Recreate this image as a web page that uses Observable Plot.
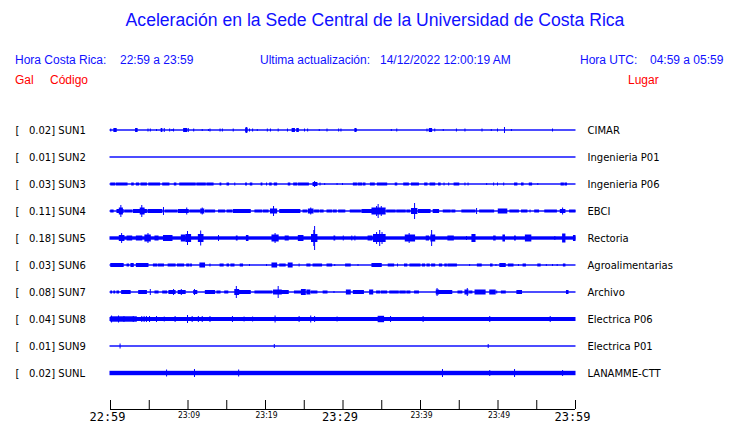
<!DOCTYPE html>
<html>
<head>
<meta charset="utf-8">
<script src="https://cdn.jsdelivr.net/npm/d3@7"></script>
<script src="https://cdn.jsdelivr.net/npm/@observablehq/plot@0.6"></script>
<style>
  html, body { margin: 0; padding: 0; background: #fff; }
  #page { position: relative; width: 740px; height: 423px; overflow: hidden; }
  .hd { position: absolute; font-family: "Liberation Sans", Arial, sans-serif; white-space: pre; line-height: 14px; }
  .blue { color: #1010ff; }
  .red { color: #ff0000; }
  #title { position: absolute; left: 0; width: 750px; top: 9px; text-align: center; font-family: "Liberation Sans", Arial, sans-serif; font-size: 17.6px; line-height: 22px; color: #1010ff; }
  #chart { position: absolute; left: 0; top: 110px; }
</style>
</head>
<body>
<div id="page">
  <div id="title">Aceleración en la Sede Central de la Universidad de Costa Rica</div>
  <span class="hd blue" style="left:15px;top:53px;font-size:12px">Hora Costa Rica:</span>
  <span class="hd blue" style="left:120px;top:53px;font-size:12px">22:59 a 23:59</span>
  <span class="hd blue" style="left:260px;top:53px;font-size:12px">Ultima actualización:</span>
  <span class="hd blue" style="left:380px;top:53px;font-size:12px">14/12/2022 12:00:19 AM</span>
  <span class="hd blue" style="left:580px;top:53px;font-size:12px">Hora UTC:</span>
  <span class="hd blue" style="left:650px;top:53px;font-size:12px">04:59 a 05:59</span>
  <span class="hd red" style="left:15px;top:73px;font-size:12px">Gal</span>
  <span class="hd red" style="left:50px;top:73px;font-size:12px">Código</span>
  <span class="hd red" style="left:628px;top:73px;font-size:12px">Lugar</span>
  <div id="chart"></div>
</div>
<script>
// ---- station metadata ----
const codes = ["SUN1","SUN2","SUN3","SUN4","SUN5","SUN6","SUN7","SUN8","SUN9","SUNL"];
const gal = ["0.02","0.01","0.03","0.11","0.18","0.03","0.08","0.04","0.01","0.02"];
const places = ["CIMAR","Ingenieria P01","Ingenieria P06","EBCI","Rectoria","Agroalimentarias","Archivo","Electrica P06","Electrica P01","LANAMME-CTT"];
// background (noise) half-amplitude of each trace
const baseAmp = [0.7,0.7,0.7,0.7,1.7,0.7,0.7,2.0,0.7,2.2];

// ---- time axis (minutes after 22:59) ----
const tickMinutes = [0,5,10,15,20,25,30,35,40,45,50,55,60];
const majorMinutes = [0,30,60];
const majorLabels = ["22:59","23:29","23:59"];
const minorMinutes = [10,20,40,50];
const minorLabels = ["23:09","23:19","23:39","23:49"];

// ---- bursts: [start minute, end minute, half-amplitude] ----
const sun1 = [[0.1,0.1,1.5],[0.5,0.8,2],[3.3,3.5,2],[4.9,4.9,1.5],[5.2,5.2,1.5],[6.0,6.0,1],[6.6,6.7,2],[7.0,7.0,2],[7.7,7.7,1.5],[8.0,8.0,1],[8.2,8.2,1.5],[9.5,9.9,2],[10.1,10.1,2],[10.8,10.8,1.5],[11.9,11.9,1],[12.7,12.7,1],[12.9,12.9,1.5],[14.2,14.2,1.5],[14.5,14.5,1.5],[15.9,15.9,1.5],[17.5,17.7,2.5],[17.6,17.6,3],[18.0,18.0,1.5],[18.4,18.4,1.5],[19.0,19.0,1],[20.3,20.3,1.5],[20.7,20.7,1.5],[21.7,21.7,1.5],[22.9,22.9,1.5],[23.5,23.8,2],[24.1,24.3,2],[25.1,25.1,1.5],[25.5,25.5,1.5],[27.0,27.0,1],[28.0,28.0,1.5],[29.5,29.5,1.5],[29.8,29.8,1.5],[31.6,31.7,2],[31.8,31.8,1.5],[36.3,36.3,1],[37.0,37.0,1.5],[40.9,40.9,1.5],[41.2,41.5,2],[41.9,41.9,1.5],[43.0,43.0,1],[44.7,44.7,1.5],[45.8,45.8,1.5],[48.0,48.0,1.5],[49.2,49.2,1],[50.0,50.0,1.5],[50.9,50.9,3],[51.8,51.8,1],[57.1,57.1,1.5]];
const sun2 = [];
const sun3 = [[0.1,0.6,1.5],[0.8,2.2,1.5],[2.8,3.0,1.5],[3.4,3.7,1.5],[4.0,4.7,1.5],[5.0,6.4,1.5],[6.8,7.6,1.5],[8.3,8.5,1.5],[9.0,11.0,1.5],[11.2,12.3,1.5],[12.5,13.3,1.5],[14.2,14.3,1.5],[15.1,15.3,1.5],[16.1,16.1,1.5],[17.5,17.6,1.5],[18.1,18.3,1.5],[19.5,19.6,1.5],[20.2,20.2,1.5],[20.6,20.8,1.5],[21.2,21.5,1.5],[23.0,23.2,1.5],[23.7,24.1,1.5],[24.3,25.6,1.5],[26.2,26.7,2],[26.4,26.4,3],[27.1,27.1,1.5],[27.7,27.7,1],[29.3,29.3,1],[30.0,30.0,1],[31.4,31.8,1.5],[32.0,32.5,1.5],[32.7,32.9,1.5],[33.6,34.1,1.5],[34.5,35.7,1.5],[36.8,37.0,1.5],[37.9,38.5,1.5],[38.9,39.8,1.5],[40.6,40.9,1.5],[41.3,41.9,1.5],[42.4,42.6,1.5],[43.1,43.1,1.5],[43.7,43.7,1.5],[44.4,45.0,1.5],[45.8,45.8,1.5],[46.2,46.2,1.5],[48.6,48.6,1],[49.5,49.5,1.5],[50.0,50.0,1.5],[50.8,50.8,1.5],[52.2,52.5,1.5],[53.1,53.3,1.5],[54.1,54.4,1.5],[55.2,55.2,1],[58.2,58.5,1.5],[58.7,58.9,1.5]];
const sun4 = [[0.1,0.4,1.5],[0.9,1.7,2],[1.4,1.4,6],[1.2,1.6,3.5],[1.9,2.8,1.5],[3.0,4.7,2],[3.9,4.4,3.5],[4.1,4.1,6],[4.9,6.7,2],[6.9,6.9,4],[7.1,8.6,1.5],[8.8,10.1,2],[9.9,9.9,3.5],[10.3,11.6,1.5],[11.7,12.1,2.5],[11.9,11.9,3.5],[12.3,13.5,1.5],[14.0,14.8,1.5],[15.1,15.7,1.5],[15.9,18.1,2],[18.7,19.6,1.5],[19.8,20.4,1.5],[20.7,21.5,2.5],[21.1,21.1,5],[21.9,24.5,2],[24.9,25.4,1.5],[25.6,26.2,2.5],[25.9,25.9,3.5],[26.4,26.9,1.5],[27.1,27.5,1.5],[28.0,28.6,1.5],[28.8,29.2,1.5],[29.5,30.3,1.5],[31.0,32.3,1.5],[32.5,33.8,2],[33.8,35.5,3.5],[34.4,34.4,5],[34.6,34.6,7],[35.0,35.0,5],[35.7,36.8,1.5],[37.0,38.1,1.5],[38.3,38.7,1.5],[38.9,39.6,3],[39.3,39.3,8],[39.8,41.3,2],[41.7,42.4,2],[43.0,43.9,1.5],[44.1,44.5,1.5],[45.4,47.1,1.5],[47.3,47.3,3],[47.7,49.5,1.5],[50.1,51.2,2.5],[51.6,52.7,1.5],[53.1,53.8,1.5],[54.2,54.2,1.5],[54.8,55.3,1.5],[56.1,57.6,1.5],[58.1,58.7,2],[58.4,58.4,3.5],[59.3,60,1.5]];
const sun5 = [[1.2,1.8,3],[1.5,1.5,5],[2.2,2.8,2.5],[3.4,4.1,2.5],[4.5,5.2,3.5],[4.9,4.9,5],[5.8,6.2,2.5],[6.9,8.0,3],[9.2,9.7,3.5],[9.8,10.4,4],[10.0,10.0,7],[11.4,12.0,4],[11.7,11.7,7.5],[14.0,14.0,3],[16.3,16.4,2.5],[17.6,17.8,3],[20.9,21.7,3.5],[21.3,21.3,5],[22.6,23.0,2.5],[24.3,24.9,3],[26.0,26.7,4],[26.3,26.3,8],[26.4,26.4,12],[28.9,29.0,2.5],[30.1,30.1,2.5],[31.2,31.2,2.5],[31.6,31.6,2.5],[33.3,33.8,2.5],[34.0,35.5,4],[34.4,34.4,6],[34.8,34.8,8],[35.1,35.1,6],[38.1,39.3,3.5],[38.6,38.6,5],[40.8,41.1,2.5],[41.4,41.9,3.5],[41.5,41.5,8],[43.6,44.3,2.5],[46.0,46.0,2],[46.7,47.1,4],[49.5,49.7,2.5],[50.7,50.9,3.5],[52.2,52.3,2.5],[53.6,54.3,3.5],[57.4,57.4,2],[58.4,58.7,4.5],[59.8,60,3]];
const sun6 = [[0.1,1.7,2],[2.2,2.4,1.5],[2.7,3.0,2],[3.4,4.9,2],[5.6,6.0,1.5],[6.2,6.9,1.5],[7.5,8.4,1.5],[8.7,9.5,1.5],[9.9,10.2,1.5],[10.4,10.5,1.5],[11.6,12.2,2.5],[12.9,12.9,1.5],[14.2,14.6,1.5],[15.1,15.3,1.5],[15.6,16.0,1.5],[16.8,17.1,1.5],[18.0,18.0,1],[20.2,20.2,1],[20.9,21.5,2.5],[21.9,22.6,1.5],[23.0,23.5,2.5],[24.4,24.4,1.5],[25.4,25.8,1.5],[26.2,27.3,1.5],[28.0,28.6,1.5],[29.0,29.0,1],[30.4,31.0,1.5],[32.0,32.0,1],[33.8,35.0,2],[35.9,36.6,1.5],[37.1,37.1,1.5],[38.0,38.3,1.5],[38.7,40.0,1.5],[40.3,40.6,1.5],[40.9,41.2,1.5],[41.5,41.9,1.5],[42.5,42.8,1.5],[43.2,43.4,1.5],[43.6,44.7,1.5],[46.4,46.4,1],[47.4,47.9,1.5],[49.1,49.3,1.5],[49.8,49.8,1],[50.3,51.0,2],[51.4,52.0,1.5],[52.7,52.7,1],[53.3,53.6,1.5],[55.2,55.5,1.5],[56.3,56.3,1],[57.1,57.1,1],[57.7,57.7,1],[58.5,58.7,1.5]];
const sun7 = [[0.1,0.2,1.5],[0.5,0.6,1.5],[0.9,1.1,1.5],[1.5,2.6,2],[3.7,4.7,2],[5.2,5.2,3],[5.8,6.2,1.5],[6.8,7.3,1.5],[7.6,8.4,2],[8.2,8.2,3],[8.8,9.7,2],[9.2,9.2,3],[10.8,11.2,2],[10.9,10.9,3],[12.3,13.5,2],[13.8,14.2,1.5],[14.8,15.2,1.5],[16.1,16.6,3],[16.3,16.3,6],[16.6,18.1,2],[18.7,20.9,1.5],[21.1,22.1,2.5],[21.7,21.7,6],[22.1,23.0,2],[23.8,24.7,1.5],[24.7,25.2,3],[25.4,25.8,2.5],[26.0,26.7,1.5],[27.5,28.0,1.5],[28.9,28.9,1],[30.5,31.0,2.5],[31.4,32.7,2],[33.5,33.9,2.5],[34.4,34.8,1.5],[35.0,35.7,1.5],[36.1,37.2,1.5],[37.4,38.1,1.5],[38.3,38.7,1.5],[39.3,39.8,1.5],[42.1,42.4,2.5],[42.2,42.2,4],[42.4,44.1,2],[44.9,45.4,1.5],[45.8,46.2,2.5],[46.1,46.1,4],[46.4,46.7,1.5],[47.1,48.4,2.5],[49.0,49.7,2.5],[49.9,49.9,1.5],[50.5,51.0,1.5],[52.5,53.1,2],[58.9,59.1,2]];
const sun8 = [[0.1,3.4,2.7],[0.2,0.2,3.5],[1.1,1.1,3.5],[1.8,1.8,3],[3.0,3.0,3],[4.1,4.1,3],[4.4,4.4,3],[4.7,4.7,3],[5.1,5.1,3],[6.0,6.0,3],[7.0,7.0,2.5],[8.4,8.4,3],[10.0,10.0,4],[10.6,10.6,3],[11.4,11.4,3],[11.9,11.9,3],[12.9,12.9,3],[15.8,15.8,3],[17.3,17.3,2.5],[18.4,18.4,2.5],[21.3,21.3,3.5],[24.4,24.4,3],[25.9,25.9,3.5],[26.4,26.4,3],[29.3,29.3,2.5],[34.6,35.3,3.2],[36.2,36.2,3],[40.4,40.4,3],[49.0,49.0,3],[56.8,56.8,3]];
const sun9 = [[1.3,1.3,2.5],[21.2,21.2,2],[48.8,48.8,2]];
const sunl = [[7.3,7.3,3.5],[10.9,10.9,4],[16.6,16.6,3.5],[42.9,42.9,4],[49.0,49.0,3],[52.2,52.2,4],[58.4,58.4,3]];

const bursts = [sun1,sun2,sun3,sun4,sun5,sun6,sun7,sun8,sun9,sunl];

// build rect table
const rowSpacing = 27; // pixels per row; amplitudes are in the same pixel units
const rows = [];
bursts.forEach((list, i) => {
  rows.push({i, t1: 0, t2: 60, a: baseAmp[i]});
  list.forEach(([t1, t2, a]) => rows.push({i, t1, t2, a}));
});
const yBottom = 9 + 36 / rowSpacing;
const idx = d3.range(codes.length);

const chart = Plot.plot({
  width: 740,
  height: 313,
  marginLeft: 110,
  marginRight: 165,
  marginTop: 20,
  marginBottom: 14,
  style: {fontFamily: "DejaVu Sans", fontSize: "10px", color: "black", background: "white"},
  x: {domain: [0, 60], axis: null},
  y: {domain: [0, yBottom], reverse: true, axis: null},
  marks: [
    Plot.rect(rows, {
      x1: "t1", x2: "t2",
      y1: d => d.i - d.a / rowSpacing,
      y2: d => d.i + d.a / rowSpacing,
      fill: "#0000ff",
      insetLeft: -0.5, insetRight: -0.5
    }),
    Plot.axisY({
      anchor: "left", ticks: idx, tickSize: 0, tickPadding: 95,
      textAnchor: "start",
      tickFormat: i => `[\u00a0\u00a0\u00a0${gal[i]}] ${codes[i]}`,
      fontSize: 10
    }),
    Plot.axisY({
      anchor: "right", ticks: idx, tickSize: 0, tickPadding: 12,
      tickFormat: i => places[i],
      fontSize: 10
    }),
    Plot.ruleY([yBottom], {stroke: "black"}),
    Plot.ruleX(tickMinutes, {x: d => d, y1: yBottom, y2: yBottom, insetTop: -9, stroke: "black"}),
    Plot.text(majorMinutes, {
      x: d => d, text: (d, k) => majorLabels[k],
      frameAnchor: "bottom", lineAnchor: "middle", dy: 7.5, dx: -3,
      fontFamily: "DejaVu Sans Mono", fontSize: 12, fill: "black"
    }),
    Plot.text(minorMinutes, {
      x: d => d, text: (d, k) => minorLabels[k],
      frameAnchor: "bottom", lineAnchor: "middle", dy: 6, dx: 1,
      fontFamily: "DejaVu Sans Condensed, DejaVu Sans", fontWeight: "normal", fontSize: 8.5, fill: "black"
    })
  ]
});
document.getElementById("chart").appendChild(chart);
</script>
</body>
</html>
